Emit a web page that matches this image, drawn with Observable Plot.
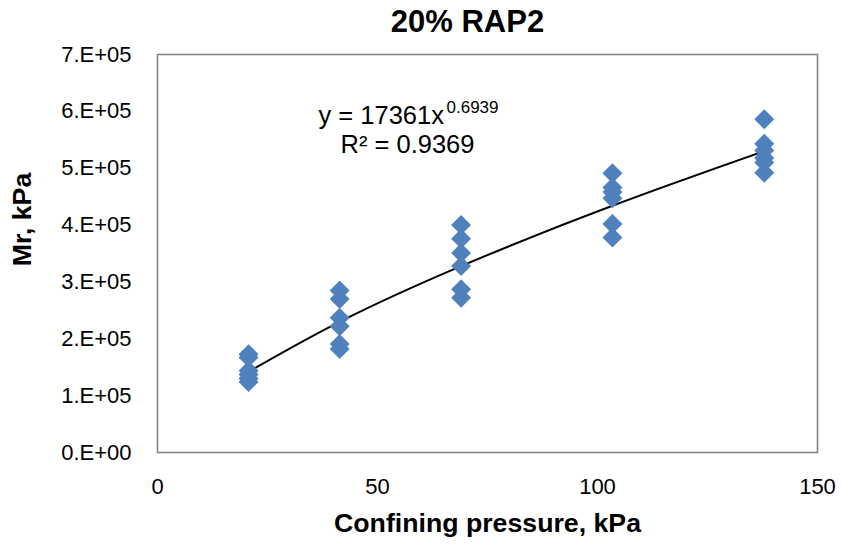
<!DOCTYPE html>
<html>
<head>
<meta charset="utf-8">
<script src="https://cdn.jsdelivr.net/npm/d3@7"></script>
<script src="https://cdn.jsdelivr.net/npm/@observablehq/plot@0.6"></script>
<style>
  html, body { margin: 0; padding: 0; background: #fff; }
  #chart svg { display: block; }
</style>
</head>
<body>
<div id="chart"></div>
<script>
// ---- data ----
const title = "20% RAP2";
const xLabel = "Confining pressure, kPa";
const yLabel = "Mr, kPa";
const xTicks = [0, 50, 100, 150];
const yTicks = [0, 1e5, 2e5, 3e5, 4e5, 5e5, 6e5, 7e5];
const yTickLabels = ["0.E+00", "1.E+05", "2.E+05", "3.E+05", "4.E+05", "5.E+05", "6.E+05", "7.E+05"];

const confining = [
  20.7, 20.7, 20.7, 20.7, 20.7, 20.7,
  41.4, 41.4, 41.4, 41.4, 41.4, 41.4,
  69.0, 69.0, 69.0, 69.0, 69.0, 69.0,
  103.4, 103.4, 103.4, 103.4, 103.4, 103.4,
  137.9, 137.9, 137.9, 137.9, 137.9, 137.9
];
const mr = [
  173000, 167000, 144000, 137000, 130000, 124000,
  285000, 270000, 237000, 222000, 191000, 182000,
  400000, 376000, 351000, 328000, 287000, 272000,
  491000, 466000, 458000, 447000, 402000, 378000,
  586000, 543000, 531000, 518000, 510000, 492000
];

// power trendline values read at the test pressures
const trendX = [20.7, 41.4, 69.0, 103.4, 137.9];
const trendY = [142100, 229900, 327800, 433900, 529900];

const eqMain = "y = 17361x";
const eqExp = "0.6939";
const eqR2 = "R² = 0.9369";

// ---- build tables ----
const points = confining.map((c, i) => ({x: c, y: mr[i]}));
const trend = trendX.map((x, i) => ({x, y: trendY[i]}));

const font = "'Liberation Sans', Arial, sans-serif";

const chart = Plot.plot({
  width: 841,
  height: 547,
  marginLeft: 157,
  marginRight: 24,
  marginTop: 54,
  marginBottom: 95,
  style: {fontFamily: font, color: "#000", background: "#fff"},
  x: {domain: [0, 150], ticks: xTicks},
  y: {domain: [0, 7e5], ticks: yTicks},
  marks: [
    Plot.frame({stroke: "#868686", strokeWidth: 1.6}),
    Plot.axisX({
      ticks: xTicks, tickSize: 0, tickPadding: 26, fontSize: 22,
      label: null, tickFormat: d => String(d), fill: "#000"
    }),
    Plot.axisY({
      ticks: yTicks, tickSize: 0, tickPadding: 26, fontSize: 22,
      label: null, tickFormat: d => yTickLabels[yTicks.indexOf(d)], fill: "#000"
    }),
    Plot.line(trend, {x: "x", y: "y", stroke: "#000", strokeWidth: 2, curve: "natural"}),
    Plot.dot(points, {
      x: "x", y: "y", symbol: "diamond2", r: 9,
      fill: "#4F81BD", stroke: "none"
    }),
    // title
    Plot.text([title], {
      frameAnchor: "top", dx: -20, dy: -32, text: d => d,
      fontSize: 31, fontWeight: "bold", lineAnchor: "middle", fill: "#000"
    }),
    // x-axis label
    Plot.text([xLabel], {
      frameAnchor: "bottom", dy: 71, text: d => d,
      fontSize: 26.7, fontWeight: "bold", lineAnchor: "middle", fill: "#000"
    }),
    // y-axis label
    Plot.text([yLabel], {
      frameAnchor: "left", dx: -135, dy: -34, rotate: -90, text: d => d,
      textAnchor: "middle", fontSize: 26.7, fontWeight: "bold", lineAnchor: "middle", fill: "#000"
    }),
    // trendline equation
    Plot.text([eqMain], {
      frameAnchor: "top-left", dx: 161, dy: 61, text: d => d,
      textAnchor: "start", lineAnchor: "middle", fontSize: 25.5, fill: "#000"
    }),
    Plot.text([eqExp], {
      frameAnchor: "top-left", dx: 289, dy: 53, text: d => d,
      textAnchor: "start", lineAnchor: "middle", fontSize: 17, fill: "#000"
    }),
    Plot.text([eqR2], {
      frameAnchor: "top-left", dx: 183, dy: 90, text: d => d,
      textAnchor: "start", lineAnchor: "middle", fontSize: 25.5, fill: "#000"
    })
  ]
});

document.getElementById("chart").appendChild(chart);
</script>
</body>
</html>
